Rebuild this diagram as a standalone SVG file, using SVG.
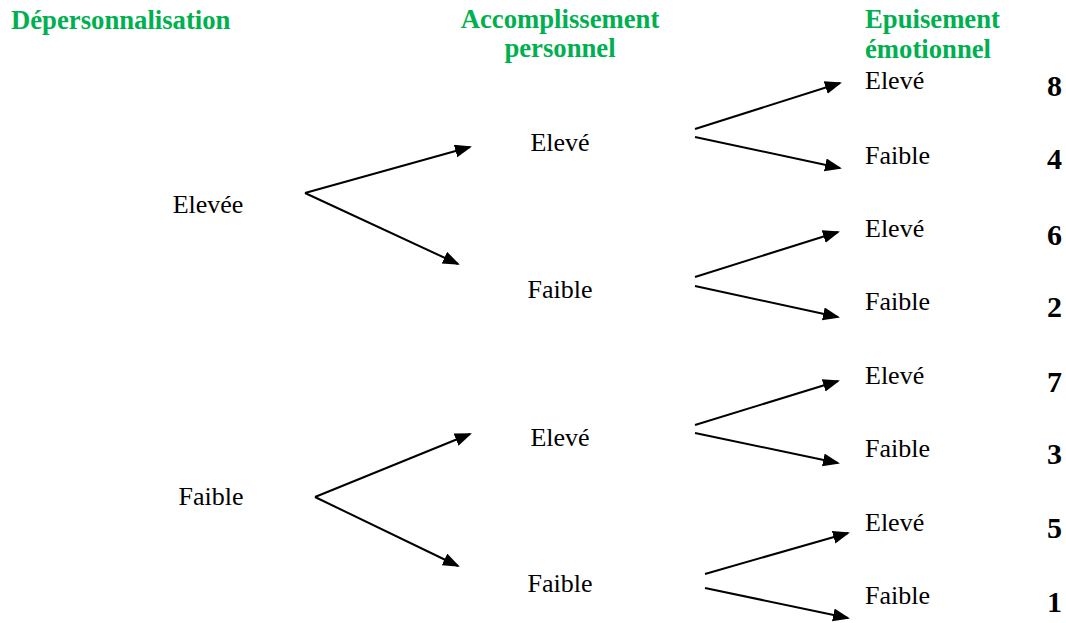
<svg xmlns="http://www.w3.org/2000/svg" width="1066" height="623" viewBox="0 0 1066 623">
<style>
.h{font-family:'Liberation Serif','DejaVu Serif',serif;font-weight:bold;font-size:26.7px;fill:#00B050}
.t{font-family:'Liberation Serif','DejaVu Serif',serif;font-size:26px;fill:#000}
.n{font-family:'Liberation Serif','DejaVu Serif',serif;font-weight:bold;font-size:30px;fill:#000;text-anchor:end}
.c{text-anchor:middle}
.e{stroke:#000;stroke-width:2;fill:none;marker-end:url(#ah)}
</style>
<defs>
<marker id="ah" markerUnits="userSpaceOnUse" markerWidth="18" markerHeight="14" refX="15" refY="6.5" orient="auto">
<path d="M0,0 L17,6.5 L0,13 z" fill="#000"/>
</marker>
</defs>
<rect width="1066" height="623" fill="#fff"/>
<g id="headers">
<text class="h" x="11" y="29">Dépersonnalisation</text>
<text class="h c" x="560" y="28">Accomplissement</text>
<text class="h c" x="560" y="57">personnel</text>
<text class="h" x="865" y="28">Epuisement</text>
<text class="h" x="865" y="58">émotionnel</text>
</g>
<g id="dep-elevee"><text class="t c" x="208" y="213">Elevée</text></g>
<g id="dep-faible"><text class="t c" x="211" y="505">Faible</text></g>
<g id="acc-1"><text class="t c" x="560" y="151">Elevé</text></g>
<g id="acc-2"><text class="t c" x="560" y="298">Faible</text></g>
<g id="acc-3"><text class="t c" x="560" y="446">Elevé</text></g>
<g id="acc-4"><text class="t c" x="560" y="592">Faible</text></g>
<g id="epu-1"><text class="t" x="865" y="89">Elevé</text><text class="n" x="1062" y="96">8</text></g>
<g id="epu-2"><text class="t" x="865" y="164">Faible</text><text class="n" x="1062" y="169">4</text></g>
<g id="epu-3"><text class="t" x="865" y="237">Elevé</text><text class="n" x="1062" y="245">6</text></g>
<g id="epu-4"><text class="t" x="865" y="310">Faible</text><text class="n" x="1062" y="317">2</text></g>
<g id="epu-5"><text class="t" x="865" y="384">Elevé</text><text class="n" x="1062" y="392">7</text></g>
<g id="epu-6"><text class="t" x="865" y="457">Faible</text><text class="n" x="1062" y="464">3</text></g>
<g id="epu-7"><text class="t" x="865" y="531">Elevé</text><text class="n" x="1062" y="538">5</text></g>
<g id="epu-8"><text class="t" x="865" y="604">Faible</text><text class="n" x="1062" y="612">1</text></g>
<g id="connectors">
<line class="e" x1="305" y1="193" x2="470" y2="147"/>
<line class="e" x1="305" y1="193" x2="458" y2="264"/>
<line class="e" x1="315" y1="497" x2="470" y2="434"/>
<line class="e" x1="315" y1="497" x2="458" y2="566"/>
<line class="e" x1="695" y1="129" x2="840" y2="83"/>
<line class="e" x1="695" y1="137" x2="840" y2="168"/>
<line class="e" x1="695" y1="277" x2="838" y2="232"/>
<line class="e" x1="695" y1="286" x2="838" y2="317"/>
<line class="e" x1="695" y1="425" x2="838" y2="381"/>
<line class="e" x1="695" y1="433" x2="838" y2="463"/>
<line class="e" x1="705" y1="574" x2="848" y2="533"/>
<line class="e" x1="705" y1="588" x2="848" y2="618"/>
</g>
</svg>
